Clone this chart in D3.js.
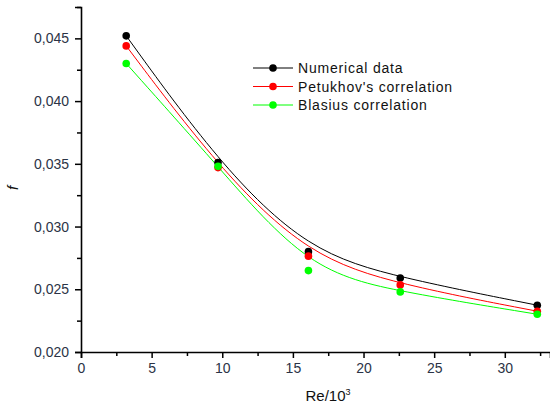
<html>
<head>
<meta charset="utf-8">
<script src="https://cdnjs.cloudflare.com/ajax/libs/d3/7.8.5/d3.min.js"></script>
<style>
    body { margin: 0; background: #fff; }
    text { font-family: "Liberation Sans", Arial, sans-serif; }
</style>
</head>
<body>
<svg id="grafico" width="550" height="408"></svg>
<script>
    // Re/10^3 values
    var reValues = [3.2, 9.7, 16.1, 22.6, 32.3];
    var numerical = [0.0452, 0.0351, 0.0280, 0.0259, 0.02373];
    var petukhov = [0.0444, 0.0347, 0.02764, 0.02535, 0.02325];
    var blasius = [0.0430, 0.0348, 0.02649, 0.02479, 0.02301];

    var seriesNames = ["Numerical data", "Petukhov's correlation", "Blasius correlation"];
    var seriesColors = ["#000000", "#ff0000", "#00ff00"];
    var xTicks = [0, 5, 10, 15, 20, 25, 30];
    var yTicks = [0.020, 0.025, 0.030, 0.035, 0.040, 0.045];

    var svg = d3.select("#grafico");

    var x = d3.scaleLinear().domain([0, 33.2]).range([81, 550]);
    var y = d3.scaleLinear().domain([0.020, 0.0475]).range([352, 7]);

    var fmt = function(v) { return d3.format(".3f")(v).replace(".", ","); };

    // minor ticks
    var xMinor = d3.range(2.5, 33.2, 5);
    var yMinor = d3.range(0.0225, 0.048, 0.005);

    svg.append("g")
        .attr("transform", "translate(0,352)")
        .call(d3.axisBottom(x).tickValues(xMinor).tickSize(4).tickFormat(""))
        .call(function(g) { g.select(".domain").remove(); })
        .selectAll("line").attr("stroke-width", 1.5);

    svg.append("g")
        .attr("transform", "translate(81,0)")
        .call(d3.axisLeft(y).tickValues(yMinor).tickSize(4).tickFormat(""))
        .call(function(g) { g.select(".domain").remove(); })
        .selectAll("line").attr("stroke-width", 1.5);

    var xAxis = svg.append("g")
        .attr("transform", "translate(0,352)")
        .call(d3.axisBottom(x).tickValues(xTicks).tickSizeOuter(0).tickSize(6).tickPadding(5).tickFormat(d3.format("d")));
    xAxis.select(".domain").attr("stroke-width", 1.6);
    xAxis.selectAll("line").attr("stroke-width", 1.5);
    xAxis.selectAll("text").attr("font-size", "14px").attr("fill", "#2b3346");

    var yAxis = svg.append("g")
        .attr("transform", "translate(81,0)")
        .call(d3.axisLeft(y).tickValues(yTicks).tickSizeOuter(0).tickSize(6).tickPadding(6).tickFormat(fmt));
    yAxis.select(".domain").attr("stroke-width", 1.6);
    yAxis.selectAll("line").attr("stroke-width", 1.5);
    yAxis.selectAll("text").attr("font-size", "14px").attr("fill", "#2b3346");

    // axis titles
    var xTitle = svg.append("text")
        .attr("x", 328)
        .attr("y", 401)
        .attr("text-anchor", "middle")
        .attr("font-size", "15px")
        .attr("fill", "#111");
    xTitle.append("tspan").text("Re/10");
    xTitle.append("tspan").attr("dy", -6).attr("font-size", "9px").text("3");

    svg.append("text")
        .attr("transform", "translate(18,188) rotate(-90)")
        .attr("text-anchor", "middle")
        .attr("font-size", "15px")
        .attr("font-style", "italic")
        .attr("fill", "#111")
        .text("f");

    var allSeries = [numerical, petukhov, blasius];

    var line = d3.line()
        .x(function(d, i) { return x(reValues[i]); })
        .y(function(d) { return y(d); })
        .curve(d3.curveBasis);

    // draw lines under points, green first
    for (var k = allSeries.length - 1; k >= 0; k--) {
        svg.append("path")
            .datum(allSeries[k])
            .attr("fill", "none")
            .attr("stroke", seriesColors[k])
            .attr("stroke-width", 1)
            .attr("d", line);
    }
    for (var k = 0; k < allSeries.length; k++) {
        svg.append("g").selectAll("circle")
            .data(allSeries[k])
            .enter().append("circle")
            .attr("cx", function(d, i) { return x(reValues[i]); })
            .attr("cy", function(d) { return y(d); })
            .attr("r", 3.8)
            .attr("fill", seriesColors[k]);
    }

    // legend
    var legend = svg.append("g").attr("transform", "translate(253,68)");
    seriesNames.forEach(function(name, i) {
        var row = legend.append("g").attr("transform", "translate(0," + (i * 18.5) + ")");
        row.append("line")
            .attr("x1", 0).attr("x2", 40)
            .attr("stroke", seriesColors[i]).attr("stroke-width", 1);
        row.append("circle")
            .attr("cx", 20).attr("r", 3.8)
            .attr("fill", seriesColors[i]);
        row.append("text")
            .attr("x", 45)
            .attr("y", 5)
            .attr("font-size", "14px")
            .attr("letter-spacing", "0.8px")
            .attr("fill", "#111")
            .text(name);
    });
</script>
</body>
</html>
